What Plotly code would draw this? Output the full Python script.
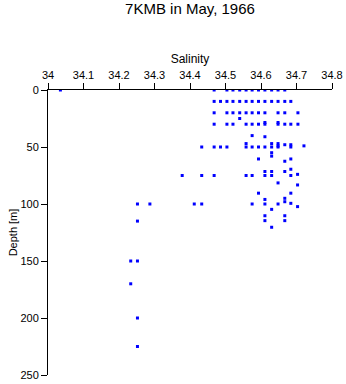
import plotly.graph_objects as go

# Salinity (x) and depth in metres (y) of each sample, grouped by depth
salinity = [
    # 0 m
    34.035, 34.468, 34.504, 34.521, 34.540, 34.558, 34.575, 34.593, 34.611, 34.630, 34.648, 34.667,
    # 10 m
    34.468, 34.486, 34.504, 34.521, 34.540, 34.558, 34.575, 34.593, 34.611, 34.630, 34.648, 34.667, 34.684,
    # 20 m
    34.468, 34.504, 34.521, 34.540, 34.558, 34.575, 34.593, 34.611, 34.648, 34.667, 34.704,
    # 25-28 m
    34.540, 34.611, 34.648,
    # 30 m
    34.468, 34.504, 34.521, 34.558, 34.575, 34.593, 34.611, 34.648, 34.667, 34.684, 34.704,
    # 40-49 m
    34.575, 34.611, 34.558, 34.630, 34.648, 34.667, 34.684, 34.648, 34.721,
    # 50 m
    34.433, 34.468, 34.486, 34.504, 34.558, 34.575, 34.593, 34.611, 34.630, 34.648, 34.684,
    # 55-74 m
    34.630, 34.630, 34.593, 34.684, 34.667, 34.684, 34.611, 34.630, 34.667, 34.703,
    # 75 m
    34.378, 34.433, 34.468, 34.558, 34.575, 34.611, 34.630, 34.684,
    # 80-99 m
    34.648, 34.703, 34.593, 34.684, 34.611, 34.667, 34.667, 34.684,
    # 100 m
    34.252, 34.287, 34.412, 34.433, 34.575, 34.611, 34.648,
    # 100-125 m
    34.703, 34.630, 34.611, 34.667, 34.611, 34.667, 34.252, 34.630,
    # deep
    34.233, 34.252, 34.233, 34.252, 34.252,
]
depth = [
    0, 0, 0, 0, 0, 0, 0, 0, 0, 0, 0, 0,
    10, 10, 10, 10, 10, 10, 10, 10, 10, 10, 10, 10, 10,
    20, 20, 20, 20, 20, 20, 20, 20, 20, 20, 20,
    25, 28.5, 28.5,
    30, 30, 30, 30, 30, 30, 30, 30, 30, 30, 30,
    40, 41, 47, 47, 47, 48, 48, 49, 49,
    50, 50, 50, 50, 50, 50, 50, 50, 50, 50, 50,
    55, 58, 60.5, 60.5, 62.5, 69.5, 71.5, 71.5, 71.5, 74,
    75, 75, 75, 75, 75, 75, 75, 75,
    81.5, 83.3, 90.5, 90.5, 96, 95, 98, 99.4,
    100, 100, 100, 100, 100, 100, 100,
    102.3, 104.7, 110.3, 110.3, 114.6, 114.6, 115, 120.4,
    150, 150, 170, 200, 225,
]

x_ticks = [34.0, 34.1, 34.2, 34.3, 34.4, 34.5, 34.6, 34.7, 34.8]
x_tick_text = ["34", "34.1", "34.2", "34.3", "34.4", "34.5", "34.6", "34.7", "34.8"]
y_ticks = [0, 50, 100, 150, 200, 250]

font = "Liberation Sans, Arial, sans-serif"

fig = go.Figure(
    go.Scatter(
        x=salinity,
        y=depth,
        mode="markers",
        marker=dict(symbol="square", size=3, color="#0000ff", line=dict(width=0)),
        hoverinfo="x+y",
    )
)

fig.update_layout(
    width=346,
    height=384,
    margin=dict(l=48, r=14, t=90, b=9, autoexpand=False),
    paper_bgcolor="white",
    plot_bgcolor="white",
    showlegend=False,
    font=dict(family=font, size=11, color="black"),
    title=dict(
        text="7KMB in May, 1966",
        xref="paper",
        x=0.5,
        xanchor="center",
        y=0.978,
        yanchor="middle",
        font=dict(family=font, size=15, color="black"),
    ),
)

fig.update_xaxes(
    side="top",
    range=[34.0, 34.8],
    tickmode="array",
    tickvals=x_ticks,
    ticktext=x_tick_text,
    ticks="outside",
    ticklen=6,
    tickwidth=1,
    tickcolor="black",
    showline=True,
    linecolor="black",
    linewidth=1,
    showgrid=False,
    zeroline=False,
    automargin=False,
    title=dict(text="Salinity", standoff=2, font=dict(size=12)),
    tickfont=dict(size=11),
)

fig.update_yaxes(
    range=[250, 0],
    tickmode="array",
    tickvals=y_ticks,
    ticks="outside",
    ticklen=6,
    tickwidth=1,
    tickcolor="black",
    showline=True,
    linecolor="black",
    linewidth=1,
    showgrid=False,
    zeroline=False,
    automargin=False,
    title=dict(text="Depth [m]", standoff=0, font=dict(size=11)),
    tickfont=dict(size=11),
)

fig.write_html("out.html")
